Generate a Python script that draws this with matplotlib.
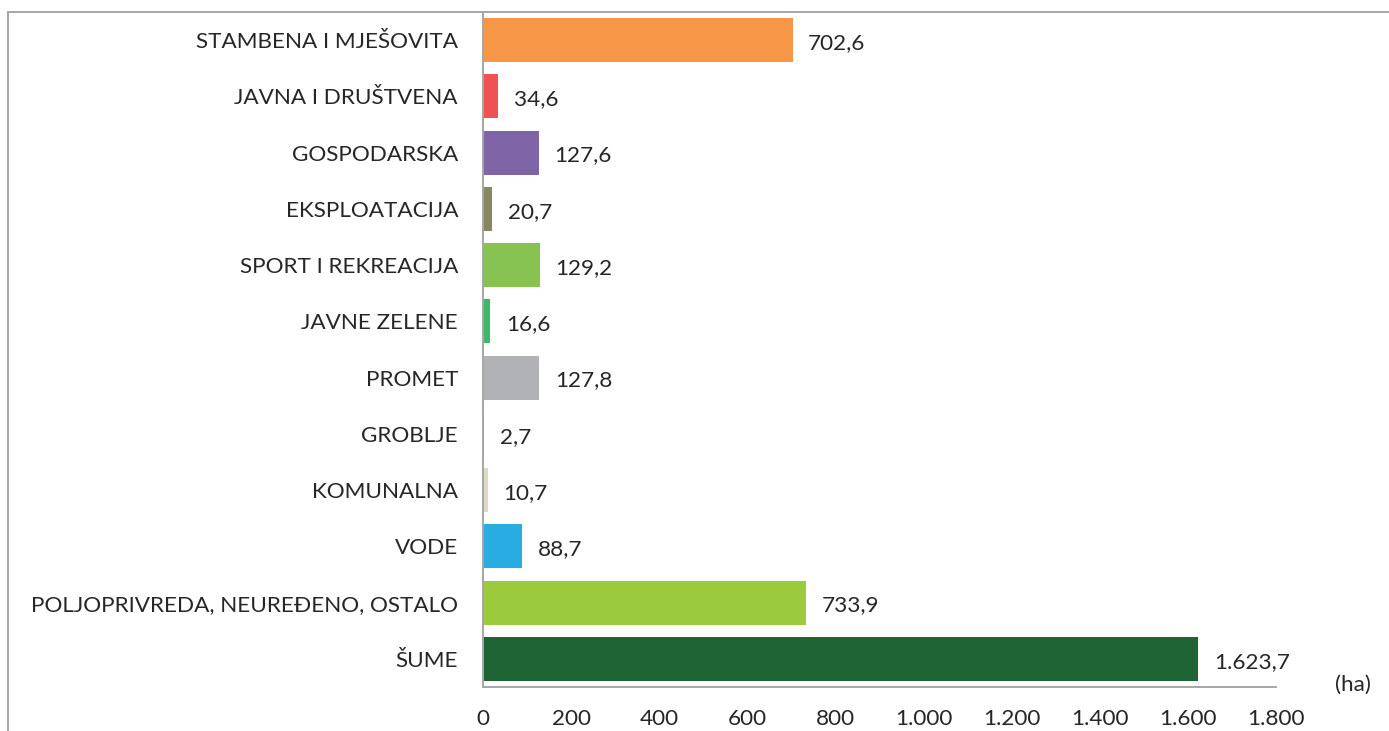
import matplotlib
matplotlib.use("Agg")
import matplotlib.pyplot as plt
from matplotlib.lines import Line2D

# Land-use categories (top to bottom) and their areas in hectares
categories = [
    "STAMBENA I MJEŠOVITA",
    "JAVNA I DRUŠTVENA",
    "GOSPODARSKA",
    "EKSPLOATACIJA",
    "SPORT I REKREACIJA",
    "JAVNE ZELENE",
    "PROMET",
    "GROBLJE",
    "KOMUNALNA",
    "VODE",
    "POLJOPRIVREDA, NEUREĐENO, OSTALO",
    "ŠUME",
]
areas_ha = [702.6, 34.6, 127.6, 20.7, 129.2, 16.6, 127.8, 2.7, 10.7, 88.7, 733.9, 1623.7]
bar_colors = [
    "#F79646", "#F05252", "#8064A8", "#87875F", "#86C352", "#3DB86A",
    "#B1B2B5", "#7F7F7F", "#DDD9C3", "#29ACE2", "#9BCA3E", "#1E6434",
]
x_ticks = [0, 200, 400, 600, 800, 1000, 1200, 1400, 1600, 1800]


def fmt_hr(v, decimals):
    s = f"{v:,.{decimals}f}"
    return s.replace(",", "X").replace(".", ",").replace("X", ".")


plt.rcParams["font.family"] = ["Lato", "DejaVu Sans"]
FS = 16.2
TXT = "#262626"

W, H = 1389, 731
fig = plt.figure(figsize=(W / 100, H / 100), dpi=100)
fig.patch.set_facecolor("white")

# outer chart frame (top and left edges)
frame_color = "#A6A6A6"
fig.add_artist(Line2D([8 / W, 1.0], [1 - 12 / H, 1 - 12 / H], color=frame_color, lw=1.4,
                      transform=fig.transFigure))
fig.add_artist(Line2D([8 / W, 8 / W], [0, 1 - 12 / H], color=frame_color, lw=1.4,
                      transform=fig.transFigure))

ax = fig.add_axes([483 / W, 1 - 687 / H, (1276 - 483) / W, (687 - 12) / H])

n = len(categories)
ypos = list(range(n))
ax.barh(ypos, areas_ha, height=0.78, color=bar_colors, zorder=2)
ax.set_ylim(n - 0.5, -0.5)
ax.set_xlim(0, 1800)

ax.set_yticks(ypos)
ax.set_yticklabels(categories, fontsize=FS, color=TXT)
ax.set_xticks(x_ticks)
ax.set_xticklabels([fmt_hr(t, 0) for t in x_ticks], fontsize=FS, color=TXT)
ax.tick_params(axis="both", length=0)
ax.tick_params(axis="y", pad=18)
ax.tick_params(axis="x", pad=16)

for side in ("top", "right"):
    ax.spines[side].set_visible(False)
for side in ("left", "bottom"):
    ax.spines[side].set_color("#A6A6A6")
    ax.spines[side].set_linewidth(1.4)

for y, v in zip(ypos, areas_ha):
    ax.text(v + 35, y + 0.05, fmt_hr(v, 1), va="center", ha="left", fontsize=FS, color=TXT)

fig.text(1353 / W, 1 - 685 / H, "(ha)", ha="center", va="center", fontsize=FS, color=TXT)

fig.savefig("out.png", dpi=100, facecolor="white")
